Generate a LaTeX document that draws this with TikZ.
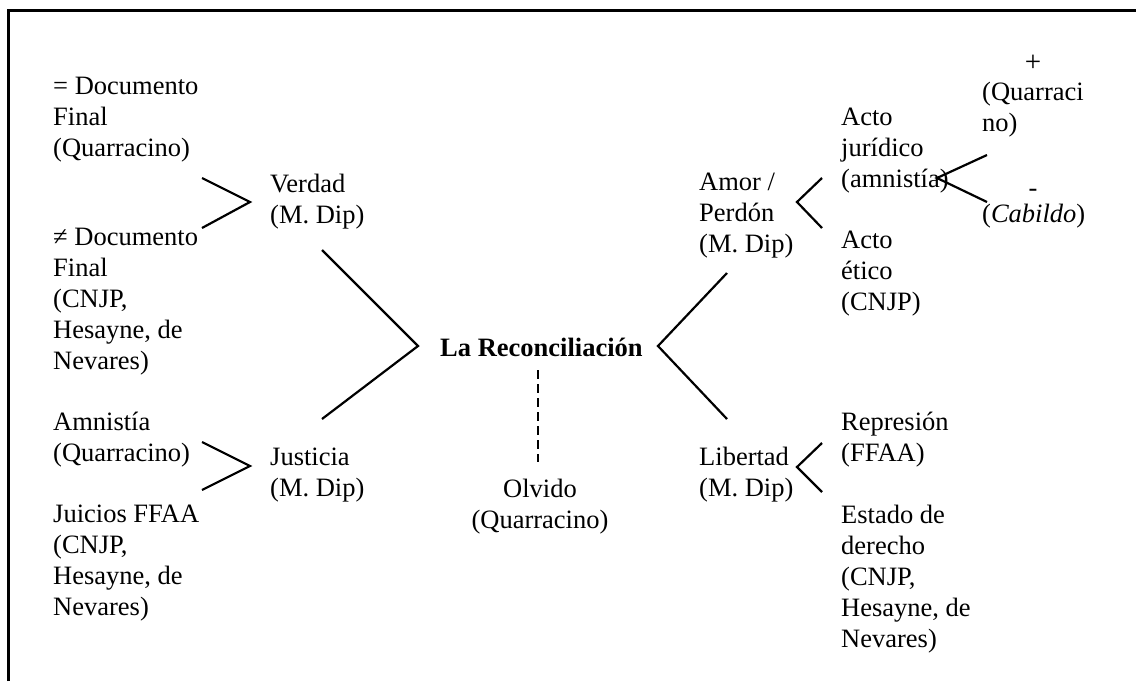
\documentclass[tikz,border=0pt]{standalone}
\usepackage{fontspec}
\setmainfont{Liberation Serif}
\usetikzlibrary{positioning}
\tikzset{
    txt/.style={anchor=base west, align=left, inner sep=0pt, font=\fontsize{26.5}{31}\selectfont},
    mid/.style={txt, anchor=base, align=center},
    brk/.style={line width=2.2pt},
    olv/.style={line width=2.2pt, dash pattern=on 9pt off 5pt}
}
\begin{document}
\begin{tikzpicture}[x=1pt, y=-1pt]
    \useasboundingbox (0,0) rectangle (1136,681);
    % frame
    \draw[line width=3pt] (8,681) -- (8,10) -- (1136,10);

    % left side (node base = last line)
    \node[txt] (igual) at (53,156) {= Documento\\Final\\(Quarracino)};
    \node[txt] (distinto) at (53,369) {≠ Documento\\Final\\(CNJP,\\Hesayne, de\\Nevares)};
    \node[txt] (amnistia) at (53,461) {Amnistía\\(Quarracino)};
    \node[txt] (juicios) at (53,615) {Juicios FFAA\\(CNJP,\\Hesayne, de\\Nevares)};
    \node[txt] (verdad) at (270,223) {Verdad\\(M. Dip)};
    \node[txt] (justicia) at (270,496) {Justicia\\(M. Dip)};

    % centre
    \node[txt, font=\fontsize{26.5}{31}\selectfont\bfseries] (recon) at (440,356) {La Reconciliación};
    \node[mid] (olvido) at (540,528) {Olvido\\(Quarracino)};

    % right side
    \node[txt] (amor) at (699,252) {Amor /\\Perdón\\(M. Dip)};
    \node[txt] (libertad) at (699,496) {Libertad\\(M. Dip)};
    \node[txt] (juridico) at (841,187) {Acto\\jurídico\\(amnistía)};
    \node[txt] (etico) at (841,310) {Acto\\ético\\(CNJP)};
    \node[txt] (represion) at (841,461) {Represión\\(FFAA)};
    \node[txt] (estado) at (841,647) {Estado de\\derecho\\(CNJP,\\Hesayne, de\\Nevares)};
    \node[mid, font=\fontsize{29}{31}\selectfont] (mas) at (1033,71) {+};
    \node[txt] (quarraci) at (982,131) {(Quarraci\\no)};
    \node[mid] (menos) at (1033,196) {-};
    \node[txt] (cabildo) at (982,222) {(\textit{Cabildo})};

    % bracket points
    \coordinate (vA) at (202,178); \coordinate (vB) at (250,202); \coordinate (vC) at (202,228);
    \coordinate (jA) at (202,442); \coordinate (jB) at (250,466); \coordinate (jC) at (202,490);
    \coordinate (lA) at (322,250); \coordinate (lB) at (418,346); \coordinate (lC) at (322,419);
    \coordinate (rA) at (727,273); \coordinate (rB) at (658,346); \coordinate (rC) at (727,419);
    \coordinate (aA) at (822,178); \coordinate (aB) at (797,202); \coordinate (aC) at (822,228);
    \coordinate (bA) at (822,443); \coordinate (bB) at (797,467); \coordinate (bC) at (822,492);
    \coordinate (cA) at (987,155); \coordinate (cB) at (937,178); \coordinate (cC) at (987,202);

    \draw[brk] (vA) -- (vB) -- (vC);
    \draw[brk] (jA) -- (jB) -- (jC);
    \draw[brk] (lA) -- (lB) -- (lC);
    \draw[brk] (rA) -- (rB) -- (rC);
    \draw[brk] (aA) -- (aB) -- (aC);
    \draw[brk] (bA) -- (bB) -- (bC);
    \draw[brk] (cA) -- (cB) -- (cC);

    % olvido
    \coordinate (oA) at (538,370); \coordinate (oB) at (538,462);
    \draw[olv] (oA) -- (oB);
\end{tikzpicture}
\end{document}
